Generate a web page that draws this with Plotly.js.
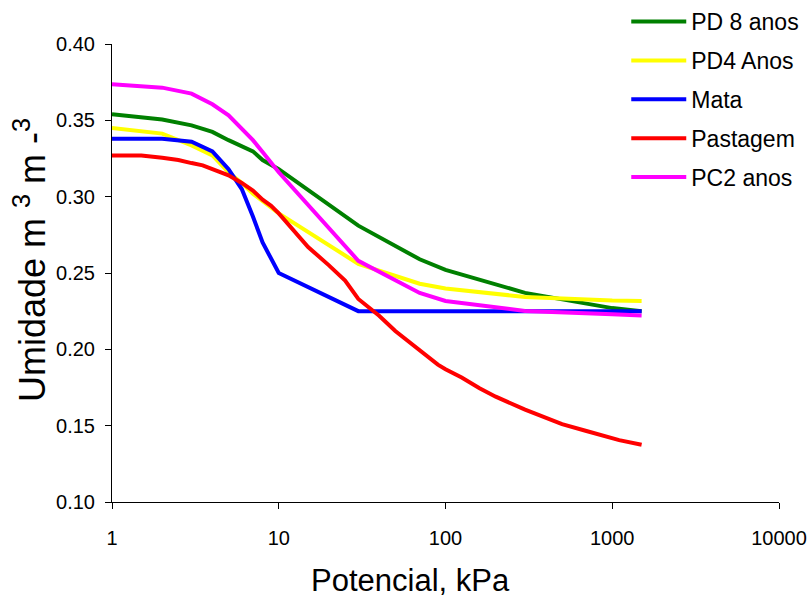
<!DOCTYPE html>
<html>
<head>
<meta charset="utf-8">
<script src="https://cdn.plot.ly/plotly-3.0.1.min.js"></script>
<style>html,body{margin:0;padding:0;background:#fff;}#chart{width:807px;height:601px;}</style>
</head>
<body>
<div id="chart"></div>
<script>
// Potential (kPa)
const xCommon = [1, 2, 3, 4, 5, 6, 7, 8, 10, 30, 70, 100, 300, 1000, 1500];
const pd8Anos = [0.354, 0.3505, 0.3467, 0.3424, 0.337, 0.333, 0.3297, 0.324, 0.318, 0.281, 0.259, 0.252, 0.237, 0.227, 0.225];
const pd4Anos = [0.345, 0.3413, 0.3336, 0.327, 0.316, 0.309, 0.302, 0.297, 0.289, 0.256, 0.243, 0.2398, 0.2343, 0.232, 0.2317];
const pc2Anos = [0.3736, 0.3714, 0.3675, 0.3605, 0.3533, 0.3446, 0.337, 0.3293, 0.316, 0.258, 0.2369, 0.2317, 0.2251, 0.223, 0.2222];

const xMata = [1, 2, 3, 4, 5, 6, 7, 8, 10, 30, 100, 300, 1000, 1500];
const mata = [0.338, 0.338, 0.336, 0.3297, 0.318, 0.305, 0.287, 0.270, 0.250, 0.225, 0.225, 0.225, 0.225, 0.225];

const xPastagem = [1, 1.5, 2, 2.5, 3, 3.5, 4, 5, 6, 7, 8, 9, 10, 12, 15, 20, 25, 30, 40, 50, 70, 90, 100, 125, 160, 200, 300, 400, 500, 700, 900, 1100, 1500];
const pastagem = [0.327, 0.327, 0.3255, 0.324, 0.322, 0.3205, 0.318, 0.314, 0.309, 0.304, 0.298, 0.294, 0.289, 0.279, 0.267, 0.255, 0.245, 0.233, 0.222, 0.212, 0.199, 0.190, 0.187, 0.1815, 0.1745, 0.169, 0.1605, 0.155, 0.151, 0.1465, 0.143, 0.1405, 0.1375];

const xTickVals = [1, 10, 100, 1000, 10000];
const xTickText = ['1', '10', '100', '1000', '10000'];

const seriesNames = ['PD 8 anos', 'PD4 Anos', 'Mata', 'Pastagem', 'PC2 anos'];
const seriesColors = ['#008000', '#FFFF00', '#0000FF', '#FF0000', '#FF00FF'];
const seriesX = [xCommon, xCommon, xMata, xPastagem, xCommon];
const seriesY = [pd8Anos, pd4Anos, mata, pastagem, pc2Anos];

const font = 'Liberation Sans, Arial, sans-serif';

const traces = seriesNames.map((n, i) => ({
  x: seriesX[i], y: seriesY[i], name: n, type: 'scatter', mode: 'lines',
  legendgroup: 'g' + i,
  line: {color: seriesColors[i], width: 4}
}));

const layout = {
  width: 807, height: 601,
  margin: {l: 112, r: 28, t: 44, b: 99, autoexpand: false},
  paper_bgcolor: '#fff', plot_bgcolor: '#fff',
  font: {family: font, color: '#000', size: 20},
  showlegend: true,
  legend: {
    x: 0.771, y: 1.096, xanchor: 'left', yanchor: 'top',
    font: {family: font, size: 23, color: '#000'},
    bgcolor: 'rgba(0,0,0,0)', itemwidth: 55, tracegroupgap: 6
  },
  xaxis: {
    type: 'log', range: [0, 4],
    tickvals: xTickVals, ticktext: xTickText,
    showgrid: false, zeroline: false,
    showline: true, linecolor: '#000', linewidth: 1,
    ticks: 'outside', ticklen: 6, tickcolor: '#000', tickwidth: 1,
    ticklabelstandoff: 12,
    tickfont: {family: font, size: 20, color: '#000'}
  },
  yaxis: {
    range: [0.10, 0.40], dtick: 0.05, tick0: 0.10, tickformat: '.2f',
    showgrid: false, zeroline: false,
    showline: true, linecolor: '#000', linewidth: 1,
    ticks: 'outside', ticklen: 6, tickcolor: '#000', tickwidth: 1,
    ticklabelstandoff: 6,
    tickfont: {family: font, size: 20, color: '#000'}
  },
  annotations: [
    {text: 'Potencial, kPa', xref: 'paper', yref: 'paper',
     x: (410 - 112) / 667, y: -(580 - 502) / 458, xanchor: 'center', yanchor: 'middle',
     showarrow: false, font: {family: font, size: 31, color: '#000'}},
    {text: 'Umidade m <sup>3</sup> m -<sup>3</sup>', xref: 'paper', yref: 'paper',
     x: -(112 - 30) / 667, y: (502 - 260) / 458, xanchor: 'center', yanchor: 'middle',
     textangle: -90, showarrow: false, font: {family: font, size: 36, color: '#000'}}
  ]
};

Plotly.newPlot('chart', traces, layout, {displayModeBar: false, staticPlot: true});
</script>
</body>
</html>
